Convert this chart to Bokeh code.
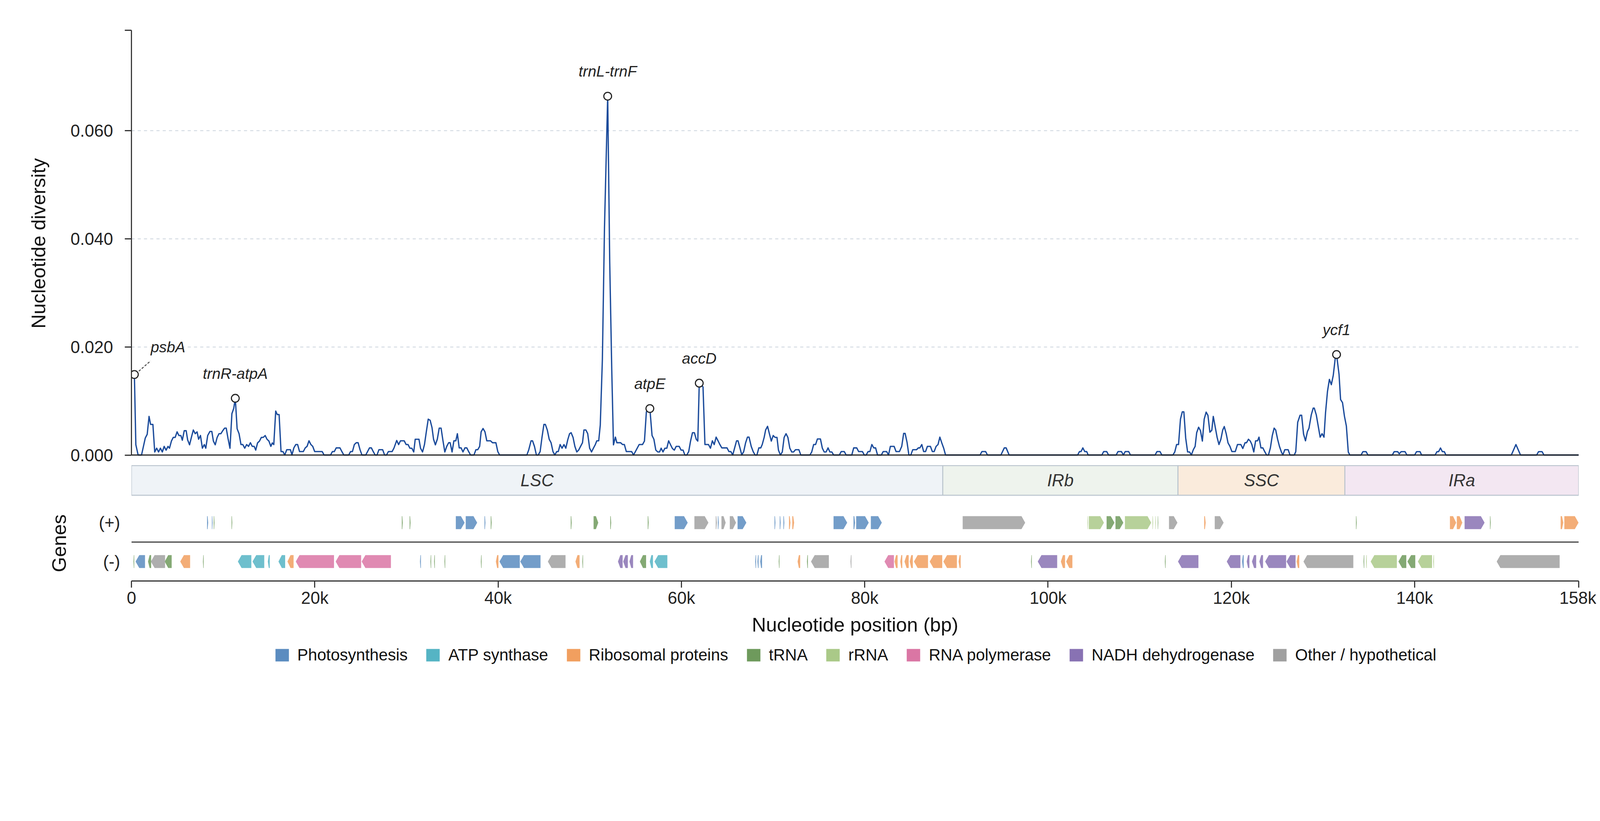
from bokeh.plotting import figure
from bokeh.layouts import column
from bokeh.models import Range1d, FixedTicker, Span, Legend, LegendItem, NumeralTickFormatter
from bokeh.core.properties import value
from bokeh.embed import file_html
from bokeh.resources import INLINE

FONT = "Liberation Sans"

# sliding-window nucleotide diversity, window midpoints in kb, Pi in units of 1e-3
window_kb = [
    0.32, 0.48, 0.73, 1.10, 1.51, 1.72, 1.92, 2.09, 2.34, 2.54,
    2.75, 2.96, 3.16, 3.37, 3.57, 3.78, 3.99, 4.15, 4.36, 4.56,
    4.77, 4.98, 5.18, 5.39, 5.55, 5.76, 5.97, 6.13, 6.34, 6.54,
    6.75, 6.96, 7.16, 7.33, 7.53, 7.74, 7.95, 8.11, 8.32, 8.56,
    8.77, 8.94, 9.14, 9.35, 9.55, 9.76, 9.97, 10.17, 10.34, 10.54,
    10.75, 10.96, 11.16, 11.33, 11.53, 11.74, 11.95, 12.15, 12.36, 12.57,
    12.77, 12.98, 13.18, 13.39, 13.56, 13.76, 13.97, 14.17, 14.38, 14.59,
    14.79, 15.00, 15.21, 15.37, 15.53, 15.74, 15.91, 16.11, 16.32, 16.53,
    16.73, 16.94, 17.35, 17.51, 17.72, 17.93, 18.13, 18.34, 18.75, 18.96,
    19.16, 19.37, 19.58, 19.78, 19.99, 20.81, 21.02, 21.72, 21.93, 22.13,
    22.34, 22.75, 22.96, 23.17, 23.70, 23.91, 24.11, 24.32, 24.53, 24.73,
    24.94, 25.15, 25.56, 25.76, 25.97, 26.18, 26.38, 26.59, 26.79, 27.00,
    27.41, 27.62, 27.83, 28.03, 28.44, 28.65, 28.94, 29.15, 29.35, 29.76,
    29.97, 30.18, 30.38, 30.59, 30.80, 30.96, 31.37, 31.54, 31.76, 31.97,
    32.17, 32.38, 32.59, 32.79, 32.96, 33.16, 33.37, 33.58, 33.78, 33.99,
    34.19, 34.40, 34.61, 34.77, 34.98, 35.18, 35.39, 35.56, 35.76, 35.97,
    36.17, 36.38, 36.59, 36.79, 37.00, 37.37, 37.58, 37.78, 37.99, 38.15,
    38.36, 38.57, 38.77, 39.18, 39.39, 39.76, 39.97, 40.17, 43.14, 43.35,
    43.60, 43.76, 43.97, 44.18, 44.38, 44.59, 44.79, 45.00, 45.16, 45.37,
    45.58, 45.78, 45.99, 46.19, 46.40, 46.57, 46.77, 46.98, 47.19, 47.39,
    47.60, 47.80, 47.97, 48.18, 48.38, 48.59, 48.79, 49.00, 49.21, 49.37,
    49.58, 49.78, 49.99, 50.20, 50.40, 50.61, 50.77, 50.98, 51.15, 51.38,
    51.61, 51.96, 52.18, 52.40, 52.59, 52.80, 52.96, 53.37, 53.58, 53.78,
    53.99, 54.57, 54.78, 54.98, 55.39, 55.76, 55.97, 56.18, 56.56, 56.80,
    57.00, 57.21, 57.42, 57.62, 57.79, 57.99, 58.20, 58.41, 58.61, 58.82,
    59.02, 59.23, 59.43, 59.76, 59.97, 60.18, 60.38, 60.59, 60.80, 61.00,
    61.21, 61.42, 61.62, 61.79, 61.95, 62.36, 62.57, 62.96, 63.17, 63.38,
    63.58, 63.79, 64.00, 64.20, 64.41, 64.98, 65.19, 65.40, 65.60, 65.81,
    66.02, 66.18, 66.39, 66.59, 66.80, 67.01, 67.21, 67.38, 67.62, 67.83,
    68.04, 68.24, 68.45, 68.66, 68.82, 69.03, 69.19, 69.40, 69.60, 69.81,
    70.02, 70.22, 70.43, 70.59, 70.80, 71.01, 71.21, 71.42, 71.62, 71.83,
    72.04, 72.24, 72.45, 72.82, 73.03, 74.02, 74.22, 74.43, 74.64, 74.84,
    75.17, 75.38, 75.58, 75.79, 76.00, 76.20, 76.41, 76.62, 77.23, 77.44,
    77.77, 77.98, 78.59, 78.80, 79.13, 79.34, 79.75, 79.96, 80.16, 80.37,
    80.57, 80.78, 80.99, 81.19, 81.40, 81.81, 82.02, 82.39, 82.60, 82.80,
    83.21, 83.42, 83.79, 84.04, 84.25, 84.41, 84.62, 84.82, 85.03, 85.24,
    85.65, 85.85, 86.02, 86.23, 86.43, 86.64, 86.84, 87.17, 87.38, 87.58,
    87.79, 88.00, 88.20, 88.41, 88.62, 88.82, 92.58, 92.79, 93.19, 93.40,
    94.86, 95.23, 95.43, 95.76, 103.23, 103.43, 103.60, 103.80, 104.01, 104.22,
    104.38, 105.87, 106.07, 106.40, 106.61, 107.43, 107.64, 108.01, 108.22, 108.42,
    108.80, 109.00, 111.68, 111.89, 112.22, 112.42, 113.62, 113.83, 114.03, 114.24,
    114.45, 114.65, 114.82, 115.02, 115.23, 115.44, 115.64, 115.85, 116.05, 116.22,
    116.43, 116.63, 116.84, 117.04, 117.25, 117.45, 117.66, 117.87, 118.03, 118.24,
    118.45, 118.65, 118.86, 119.06, 119.23, 119.44, 119.64, 119.85, 120.06, 120.43,
    120.67, 121.04, 121.25, 121.50, 121.66, 121.87, 122.07, 122.24, 122.45, 122.65,
    122.86, 123.02, 123.23, 123.44, 123.64, 123.85, 124.05, 124.26, 124.47, 124.67,
    124.84, 125.05, 125.25, 125.46, 125.62, 125.83, 126.20, 126.40, 126.87, 127.03,
    127.24, 127.50, 127.67, 127.88, 128.09, 128.30, 128.47, 128.72, 128.93, 129.05,
    129.27, 129.69, 129.90, 130.11, 130.28, 130.49, 130.70, 130.91, 131.12, 131.33,
    131.48, 131.75, 131.92, 132.13, 132.34, 132.55, 132.76, 132.93, 134.15, 134.36,
    134.70, 134.91, 137.56, 137.77, 138.15, 138.32, 138.53, 138.95, 139.16, 140.00,
    140.21, 140.59, 140.76, 142.23, 142.44, 142.61, 142.82, 143.03, 143.24, 143.41,
    150.55, 151.05, 151.55, 153.31, 153.52, 153.90, 154.11, 157.90,
]
pi_milli = [
    14.9, 1.9, 0, 0, 3.15, 3.84, 7.15, 5.66, 5.66, 0.57,
    1.26, 0.57, 1.26, 0.57, 1.60, 0.91, 1.60, 1.26, 2.58, 3.26,
    3.26, 4.29, 3.61, 3.61, 2.74, 4.50, 4.50, 2.81, 1.89, 3.26,
    4.63, 3.95, 4.29, 2.92, 3.61, 1.26, 1.94, 1.26, 3.61, 4.36,
    4.36, 2.58, 1.89, 3.26, 3.95, 3.95, 4.52, 4.98, 4.98, 3.04,
    1.26, 7.65, 8.63, 10.5, 4.86, 3.95, 1.94, 1.94, 1.26, 1.94,
    1.60, 2.28, 1.60, 1.60, 0.91, 2.24, 2.58, 3.26, 3.26, 3.61,
    2.92, 2.58, 1.60, 2.24, 1.94, 8.13, 7.49, 7.49, 0.64, 0.64,
    0, 0.98, 0.98, 0, 1.32, 1.94, 1.94, 0.64, 0.64, 1.32,
    1.60, 2.63, 1.94, 1.60, 0.64, 0.64, 0, 0, 0.64, 0.64,
    1.32, 1.32, 0.64, 0, 0, 0.64, 0.64, 1.94, 2.28, 2.28,
    0.98, 0, 0, 0.64, 1.32, 1.32, 0.64, 0, 0, 0.98,
    0.98, 0, 0, 0.64, 0.64, 1.32, 2.69, 1.94, 2.63, 2.63,
    1.94, 1.94, 1.26, 1.26, 0.57, 2.92, 2.92, 1.26, 0.57, 1.94,
    4.29, 6.64, 6.42, 5.09, 2.92, 1.89, 2.92, 4.98, 4.98, 2.63,
    0.57, 1.60, 2.28, 2.28, 0.57, 2.63, 2.63, 3.95, 1.32, 1.32,
    0.57, 1.32, 1.32, 0.64, 0, 0, 0.98, 0.98, 1.60, 4.29,
    4.91, 4.29, 2.63, 2.63, 2.28, 2.28, 0.64, 0, 0, 0.98,
    2.63, 2.63, 1.60, 0, 0, 0.64, 3.26, 5.66, 5.66, 4.63,
    2.92, 2.28, 0.64, 0, 0.64, 0.64, 1.94, 1.26, 1.94, 1.26,
    2.81, 3.95, 4.13, 3.26, 1.60, 0.57, 0.91, 1.60, 2.28, 4.63,
    4.63, 3.95, 1.26, 0.57, 1.26, 1.94, 2.63, 2.63, 5.55, 17.7,
    42.1, 66.4, 35.8, 16.0, 1.89, 3.31, 2.28, 2.28, 1.94, 1.94,
    0.64, 0.64, 0, 0.64, 1.94, 1.94, 2.58, 8.01, 8.6, 3.61,
    2.92, 0.91, 0.57, 0.57, 1.26, 0.57, 1.26, 1.26, 2.63, 1.89,
    1.21, 0.91, 1.60, 1.60, 0.91, 0.91, 0, 0, 0.64, 2.58,
    4.13, 4.13, 2.92, 2.58, 13.3, 12.6, 1.94, 1.94, 1.26, 2.63,
    1.94, 3.31, 2.63, 1.94, 1.32, 1.32, 0.64, 0.64, 0, 1.32,
    2.63, 2.63, 1.32, 0, 0.64, 2.28, 3.31, 3.31, 1.60, 0.64,
    0, 0, 1.32, 1.32, 1.94, 3.26, 4.63, 5.32, 3.95, 2.58,
    3.61, 3.26, 3.26, 0.91, 0, 0.57, 3.26, 3.95, 3.26, 1.26,
    0.57, 0.57, 0.98, 0.98, 0, 0, 0.57, 1.94, 1.94, 2.97,
    2.97, 1.26, 0.57, 0.57, 1.32, 0.57, 0.57, 0, 0, 0.64,
    0.64, 0, 0, 1.32, 1.32, 0.64, 0.64, 0, 0, 0.64,
    0.64, 1.94, 1.32, 1.32, 0, 0, 0.64, 0.64, 0, 1.60,
    1.60, 0.64, 0.64, 1.60, 4.00, 4.00, 2.35, 0, 0, 0.98,
    0.98, 1.32, 1.32, 1.94, 0.64, 0.64, 1.60, 1.60, 0.64, 0.64,
    1.60, 1.94, 3.31, 2.24, 1.26, 0, 0, 0.64, 0.64, 0,
    0, 1.32, 1.32, 0, 0, 0.64, 0.64, 1.32, 0.64, 0.64,
    0, 0, 0.64, 0.64, 0, 0, 0.64, 0.64, 0, 0.64,
    0.64, 0, 0, 0.64, 0.64, 0, 0, 0.57, 1.94, 1.94,
    6.64, 7.99, 7.99, 3.15, 0.57, 0.57, 0, 0.98, 1.60, 4.13,
    5.14, 4.52, 2.58, 6.64, 7.94, 7.33, 4.22, 4.59, 7.15, 5.21,
    3.26, 1.94, 2.92, 4.63, 5.27, 3.95, 2.24, 1.60, 0.64, 0.64,
    1.94, 1.94, 1.21, 2.28, 2.28, 2.92, 2.58, 1.94, 0.57, 2.63,
    2.63, 3.31, 1.32, 1.32, 0.64, 0, 0, 1.32, 3.61, 4.98,
    4.63, 2.92, 1.60, 0.57, 0, 0.98, 0.98, 0, 0, 0.62,
    6.05, 7.37, 7.37, 3.88, 2.63, 4.34, 4.95, 7.42, 8.68, 8.68,
    7.42, 3.31, 3.95, 3.31, 7.88, 11.76, 14.00, 13.01, 14.73, 17.81,
    18.6, 14.95, 10.27, 9.70, 7.19, 5.37, 0.57, 0, 0, 0.62,
    0.62, 0, 0, 0.62, 0.62, 0.23, 0.62, 0.62, 0, 0,
    0.62, 0.62, 0, 0, 0.62, 0.62, 1.30, 0.62, 0.62, 0,
    0, 1.94, 0, 0, 0.62, 0.62, 0, 0,
]

# highlighted peaks
peak_names = ["psbA", "trnR-atpA", "trnL-trnF", "atpE", "accD", "ycf1"]
peak_kb = [0.32, 11.33, 51.96, 56.56, 61.95, 131.48]
peak_milli = [14.9, 10.5, 66.4, 8.6, 13.3, 18.6]

# genome regions (kb)
region_names = ["LSC", "IRb", "SSC", "IRa"]
region_start = [0, 88.52, 114.18, 132.39]
region_end = [88.52, 114.18, 132.39, 157.9]

# genes on the (+) strand (kb)
plus_start = [8.25, 8.78, 8.98, 10.92, 29.50, 30.35, 35.39, 36.47, 38.52, 39.20,
              47.93, 50.42, 52.24, 56.33, 59.27, 61.42, 63.75, 63.98, 64.37, 65.28,
              66.13, 70.16, 70.73, 71.13, 71.74, 72.10, 76.60, 78.78, 79.07, 80.67,
              90.69, 104.30, 104.45, 106.39, 107.36, 108.39, 111.40, 111.70, 111.97, 113.20,
              117.04, 118.19, 133.60, 143.85, 144.60, 145.45, 148.22, 155.93, 156.33]
plus_end = [8.37, 8.86, 9.06, 11.00, 29.60, 30.45, 36.35, 37.72, 38.62, 39.30,
            48.03, 50.93, 52.34, 56.43, 60.69, 62.95, 63.87, 64.08, 64.83, 65.96,
            67.09, 70.26, 70.83, 71.23, 71.90, 72.30, 78.09, 78.95, 80.44, 81.87,
            97.51, 104.36, 106.10, 107.25, 108.22, 111.26, 111.47, 111.76, 112.03, 114.12,
            117.20, 119.16, 133.68, 144.53, 145.20, 147.63, 148.30, 156.22, 157.88]
plus_cat = ["P", "P", "T", "T", "T", "T", "P", "P", "P", "T",
            "T", "T", "T", "T", "P", "O", "O", "P", "O", "O",
            "P", "P", "P", "P", "R", "R", "P", "P", "P", "P",
            "O", "r", "r", "T", "T", "r", "r", "r", "T", "O",
            "R", "O", "T", "R", "R", "N", "T", "R", "R"]

# genes on the (-) strand (kb)
minus_start = [0.22, 0.45, 1.81, 2.12, 3.63, 5.32, 7.80, 11.61, 13.21, 14.88,
               16.04, 17.02, 17.93, 22.28, 25.12, 31.48, 32.62, 33.02, 34.15, 38.12,
               39.76, 40.15, 42.42, 45.43, 48.44, 49.19, 53.08, 53.65, 54.33, 55.47,
               56.55, 57.06, 68.05, 68.30, 68.60, 70.62, 72.68, 73.70, 74.14, 78.45,
               82.16, 83.25, 83.88, 84.34, 84.91, 85.37, 87.09, 88.58, 90.24, 98.15,
               98.88, 101.40, 101.98, 112.75, 114.18, 119.50, 121.17, 121.68, 122.25, 123.06,
               123.69, 126.02, 127.12, 127.87, 134.42, 134.70, 135.20, 138.23, 139.21, 140.35,
               142.03, 148.95]
minus_end = [0.30, 1.48, 2.15, 3.67, 4.39, 6.40, 7.88, 13.08, 14.49, 15.09,
             16.77, 17.69, 22.10, 25.06, 28.31, 31.58, 32.70, 33.10, 34.23, 38.20,
             40.04, 42.37, 44.63, 47.36, 48.89, 49.27, 53.59, 54.16, 54.73, 56.15,
             56.90, 58.47, 68.15, 68.42, 68.80, 70.70, 72.96, 73.80, 76.09, 78.55,
             83.19, 83.59, 84.10, 84.80, 85.25, 86.91, 88.46, 90.06, 90.47, 98.23,
             101.00, 101.86, 102.66, 112.83, 116.41, 120.99, 121.35, 121.97, 122.71, 123.46,
             125.98, 127.01, 127.41, 133.31, 134.50, 134.78, 138.06, 139.09, 140.07, 141.90,
             142.11, 155.82]
minus_cat = ["T", "P", "T", "O", "T", "R", "T", "A", "A", "A",
             "A", "R", "Pol", "Pol", "Pol", "P", "T", "T", "T", "T",
             "R", "P", "P", "O", "R", "T", "N", "N", "N", "T",
             "A", "A", "P", "P", "P", "T", "R", "T", "O", "O",
             "Pol", "R", "R", "R", "R", "R", "R", "R", "R", "T",
             "N", "R", "R", "T", "N", "N", "P", "N", "N", "N",
             "N", "N", "R", "O", "T", "r", "r", "T", "T", "r",
             "r", "O"]

categories = ["P", "A", "R", "T", "r", "Pol", "N", "O"]
category_labels = ["Photosynthesis", "ATP synthase", "Ribosomal proteins", "tRNA", "rRNA",
                   "RNA polymerase", "NADH dehydrogenase", "Other / hypothetical"]
category_colors = {"P": "#5b8cc0", "A": "#55b4c4", "R": "#f19f5f", "T": "#6e9a5c",
                   "r": "#aac988", "Pol": "#da76a4", "N": "#8872b3", "O": "#a0a0a0"}
region_colors = ["#eff3f7", "#eef3ed", "#faebdc", "#f3e7f2"]

x_ticks = [0, 20, 40, 60, 80, 100, 120, 140, 157.9]
x_tick_labels = ["0", "20k", "40k", "60k", "80k", "100k", "120k", "140k", "158k"]
y_ticks = [0, 0.02, 0.04, 0.06]

# ---- layout ----
# the page is photographed at ~1.055 screen px per css px; sizes below are taken
# from the target picture in screen px and converted
S = 1.0547
def css(v):
    return v / S

def fpx(v):
    return f"{css(v):.1f}px"

LEFT = round(css(354))
TOP = round(css(81))
RIGHT = 45
BOTTOM = 150
DIV_END = 1232                     # screen y of the diversity frame bottom (just under zero)
BAR_TOP = 1255                     # screen y where the region strip starts
GENE_TOP = 1365                    # screen y where the gene strip starts
FRAME_W = round(css(4262 - 354))
TOP_H = round(css(DIV_END - 81))
BAR_H = round(css(GENE_TOP - BAR_TOP))
TRK_H = round(css(1569 - GENE_TOP))
ZERO_Y = css(1228 - 81)            # frame top -> diversity 0
Y_MAX = 0.0786
X_END = 157.9
PX_KB = FRAME_W / X_END
PX_Y = ZERO_Y / Y_MAX

# bands, in css px above the bottom of the strip they sit in
def band(top, bottom, base):
    return (css(base - bottom), css(base - top))
REGION_ROW = band(BAR_TOP + 2, 1337, GENE_TOP)
PLUS_ROW = band(1394, 1429, 1569)
MINUS_ROW = band(1499, 1534, 1569)
STRAND_SEP = css(1569 - 1464)
HEAD_KB = css(10) / PX_KB
LW = css(3)

diversity = [v / 1000 for v in pi_milli]
peak_pi = [v / 1000 for v in peak_milli]

x_range = Range1d(0, X_END)


def style_axis(ax):
    ax.major_tick_in = 0
    ax.major_tick_out = 17
    ax.minor_tick_line_color = None
    ax.axis_line_color = "#333333"
    ax.axis_line_width = LW
    ax.major_tick_line_color = "#333333"
    ax.major_tick_line_width = LW
    ax.major_label_text_font = FONT
    ax.major_label_text_font_size = fpx(46)
    ax.major_label_text_color = "#222222"
    ax.axis_label_text_font = FONT
    ax.axis_label_text_font_size = fpx(53)
    ax.axis_label_text_font_style = "normal"
    ax.axis_label_text_color = "#111111"


def strip(height, top=0, bottom=0):
    f = figure(frame_width=FRAME_W, frame_height=height, x_range=x_range,
               y_range=Range1d(0, height), output_backend="svg", toolbar_location=None,
               x_axis_location=None, y_axis_location=None,
               min_border_left=LEFT, min_border_top=top, min_border_right=RIGHT,
               min_border_bottom=bottom)
    f.outline_line_color = None
    f.grid.visible = False
    return f


# ---------- diversity panel ----------
p = figure(frame_width=FRAME_W, frame_height=TOP_H, x_range=x_range,
           y_range=Range1d(-Y_MAX * (TOP_H - ZERO_Y) / ZERO_Y, Y_MAX),
           output_backend="svg", toolbar_location=None, x_axis_location=None,
           min_border_left=LEFT, min_border_top=TOP, min_border_right=RIGHT,
           min_border_bottom=round(css(BAR_TOP - DIV_END)))
p.outline_line_color = None
p.xgrid.visible = False
p.ygrid.ticker = FixedTicker(ticks=y_ticks[1:])
p.ygrid.grid_line_color = "#d5dce3"
p.ygrid.grid_line_dash = "8 8"
p.ygrid.grid_line_width = css(2.5)

ya = p.yaxis[0]
style_axis(ya)
ya.ticker = FixedTicker(ticks=y_ticks + [Y_MAX])
ya.formatter = NumeralTickFormatter(format="0.000")
ya.major_label_overrides = {Y_MAX: ""}
ya.bounds = (0, Y_MAX)
ya.axis_label = "Nucleotide diversity"
ya.axis_label_standoff = 50
ya.major_label_standoff = 30

p.line(window_kb, diversity, line_color="#1b4b9b", line_width=css(3.5), line_join="round")
p.add_layout(Span(location=0, dimension="width", line_color="#222222", line_width=LW))

p.scatter(peak_kb, peak_pi, size=css(21), fill_color="white", line_color="#222222", line_width=LW)
p.text(peak_kb[1:], peak_pi[1:], text=peak_names[1:], y_offset=-css(67),
       text_align="center", text_baseline="alphabetic",
       text_font=value(FONT), text_font_style="italic", text_font_size=fpx(41), text_color="#222222")
p.text(peak_kb[:1], peak_pi[:1], text=peak_names[:1], x_offset=css(44), y_offset=-css(74),
       text_align="left", text_baseline="alphabetic",
       text_font=value(FONT), text_font_style="italic", text_font_size=fpx(41), text_color="#222222")
p.segment(x0=[peak_kb[0] + css(12) / PX_KB], y0=[peak_pi[0] + css(9) / PX_Y],
          x1=[peak_kb[0] + css(44) / PX_KB], y1=[peak_pi[0] + css(37) / PX_Y],
          line_color="#444444", line_width=css(2.5), line_dash="6 4")

# ---------- region strip ----------
r = strip(BAR_H)
r.quad(left=region_start, right=region_end, bottom=REGION_ROW[0], top=REGION_ROW[1],
       fill_color=region_colors, line_color="#b9c3cd", line_width=css(2.5))
region_mid = [(a + b) / 2 for a, b in zip(region_start, region_end)]
r.text(region_mid, [sum(REGION_ROW) / 2] * 4, text=region_names,
       text_align="center", text_baseline="middle", text_font=value(FONT),
       text_font_style="italic", text_font_size=fpx(46), text_color="#333333")

# ---------- gene panel ----------
g = figure(frame_width=FRAME_W, frame_height=TRK_H, x_range=x_range, y_range=Range1d(0, TRK_H),
           output_backend="svg", toolbar_location=None,
           min_border_left=LEFT, min_border_top=0, min_border_right=RIGHT, min_border_bottom=BOTTOM)
g.outline_line_color = None
g.grid.visible = False

xa = g.xaxis[0]
style_axis(xa)
xa.ticker = FixedTicker(ticks=x_ticks)
xa.major_label_overrides = dict(zip(x_ticks, x_tick_labels))
xa.axis_label = "Nucleotide position (bp)"
xa.axis_label_standoff = 13
xa.major_label_standoff = 2

strand_y = [sum(PLUS_ROW) / 2, sum(MINUS_ROW) / 2]
sa = g.yaxis[0]
style_axis(sa)
sa.ticker = FixedTicker(ticks=strand_y)
sa.major_label_overrides = dict(zip(strand_y, ["(+)", "(-)"]))
sa.axis_line_color = None
sa.major_tick_line_color = None
sa.major_tick_out = 0
sa.major_label_standoff = 29
sa.axis_label = "Genes"
sa.axis_label_standoff = 70


def arrow(s, e, strand, rows):
    y0, y1 = rows
    ym = (y0 + y1) / 2
    head = min(HEAD_KB, (e - s) * 0.5)
    if strand > 0:
        return [s, e - head, e, e - head, s], [y0, y0, ym, y1, y1]
    return [s, s + head, e, e, s + head], [ym, y1, y1, y0, y0]


for cat in categories:
    xs, ys = [], []
    for s, e, c in zip(plus_start, plus_end, plus_cat):
        if c == cat:
            a, b = arrow(s, e, 1, PLUS_ROW)
            xs.append(a); ys.append(b)
    for s, e, c in zip(minus_start, minus_end, minus_cat):
        if c == cat:
            a, b = arrow(s, e, -1, MINUS_ROW)
            xs.append(a); ys.append(b)
    g.patches(xs, ys, fill_color=category_colors[cat], fill_alpha=0.85, line_color=None)

g.add_layout(Span(location=STRAND_SEP, dimension="width", line_color="#333333", line_width=LW))

# ---------- legend strip ----------
# bokeh insets area swatches by 10% on every side, so the glyph box is enlarged to match
LEG_H = 80
SW_W, SW_H = css(36) / 0.8, css(34) / 0.8
lg = figure(frame_width=FRAME_W, frame_height=LEG_H, x_range=Range1d(0, 1), y_range=Range1d(0, 1),
            output_backend="svg", toolbar_location=None, x_axis_location=None, y_axis_location=None,
            min_border_left=LEFT, min_border_right=RIGHT, min_border_top=0, min_border_bottom=0)
lg.outline_line_color = None
lg.grid.visible = False
items = []
for cat, lab in zip(categories, category_labels):
    # legend proxy, parked outside the visible range
    q = lg.quad(left=[-3], right=[-2], top=[-2], bottom=[-3],
                fill_color=category_colors[cat], line_color=None)
    items.append(LegendItem(label=lab, renderers=[q]))
lg.add_layout(Legend(items=items, orientation="horizontal", location="center",
                     label_text_font=FONT, label_text_font_size=fpx(44), label_text_color="#111111",
                     glyph_width=round(SW_W), glyph_height=round(SW_H),
                     label_standoff=round(css(23) - 0.1 * SW_W), spacing=round(css(49.5) - 0.1 * SW_W),
                     padding=0, margin=0, border_line_color=None, background_fill_alpha=0))

page = column(p, r, g, lg, spacing=0)
open("out.html", "w").write(file_html(page, INLINE))
